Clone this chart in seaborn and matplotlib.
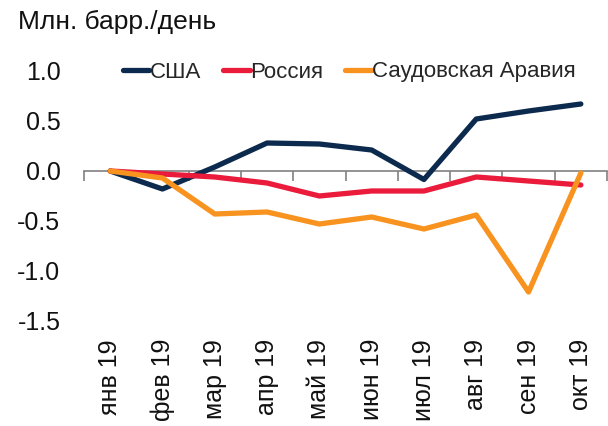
import matplotlib
matplotlib.use("Agg")
import matplotlib.pyplot as plt
import seaborn as sns
import pandas as pd
import numpy as np

months = ["янв 19", "фев 19", "мар 19", "апр 19", "май 19", "июн 19",
          "июл 19", "авг 19", "сен 19", "окт 19"]
usa = [0.0, -0.18, 0.04, 0.28, 0.27, 0.21, -0.085, 0.52, 0.60, 0.67]
russia = [0.0, -0.03, -0.06, -0.12, -0.25, -0.20, -0.20, -0.06, -0.10, -0.14]
saudi = [0.0, -0.07, -0.43, -0.41, -0.53, -0.46, -0.58, -0.44, -1.21, -0.02]
series_names = ["США", "Россия", "Саудовская Аравия"]
colors = ["#0c2a4d", "#ea1b3b", "#f7931e"]
yticks = [-1.5, -1.0, -0.5, 0.0, 0.5, 1.0]
title = "Млн. барр./день"

sns.set_theme(style="white")
plt.rcParams["font.family"] = ["Liberation Sans", "DejaVu Sans"]

rows = []
for name, vals in zip(series_names, [usa, russia, saudi]):
    for i, v in enumerate(vals):
        rows.append({"pos": i, "month": months[i], "country": name, "value": v})
df = pd.DataFrame(rows)

fig = plt.figure(figsize=(6.08, 4.26), dpi=100)
ax = fig.add_axes([84 / 608, 1 - 321 / 426, 523 / 608, 250 / 426])

sns.lineplot(data=df, x="pos", y="value", hue="country", hue_order=series_names,
             palette=colors, linewidth=3.8, ax=ax, legend=True,
             solid_capstyle="round", solid_joinstyle="round")

ax.set_xlim(-0.5, len(months) - 0.5)
ax.set_ylim(-1.5, 1.0)
ax.set_xlabel("")
ax.set_ylabel("")

for s in ["left", "right", "top"]:
    ax.spines[s].set_visible(False)
ax.spines["bottom"].set_position(("data", 0))
ax.spines["bottom"].set_color("#808080")
ax.spines["bottom"].set_linewidth(1.2)
ax.spines["bottom"].set_zorder(1)

ax.set_xticks(np.arange(-0.5, len(months), 1.0))
ax.set_xticklabels([])
ax.tick_params(axis="x", bottom=True, direction="out", length=7, width=1.2,
               color="#808080")

ax.set_yticks(yticks)
ax.set_yticklabels([f"{t:.1f}" for t in yticks])
ax.tick_params(axis="y", left=False, length=0, pad=17, labelsize=18,
               labelcolor="#111111")

sec = ax.secondary_xaxis("bottom")
sec.set_xticks(range(len(months)))
sec.set_xticklabels(months, rotation=90, fontsize=18, color="#111111")
sec.tick_params(length=0, pad=13)
sec.spines["bottom"].set_visible(False)

leg = ax.legend(loc="center", bbox_to_anchor=(349 / 608, 1 - 72 / 426),
                bbox_transform=fig.transFigure, ncol=3, frameon=False,
                fontsize=16, handlelength=1.2, handletextpad=0.0,
                columnspacing=1.0, borderaxespad=0)
for line in leg.get_lines():
    line.set_linewidth(3.8)

fig.text(18 / 608, 1 - 22 / 426, title, fontsize=19, ha="left", va="center",
         color="#111111")

fig.savefig("out.png", dpi=100)
